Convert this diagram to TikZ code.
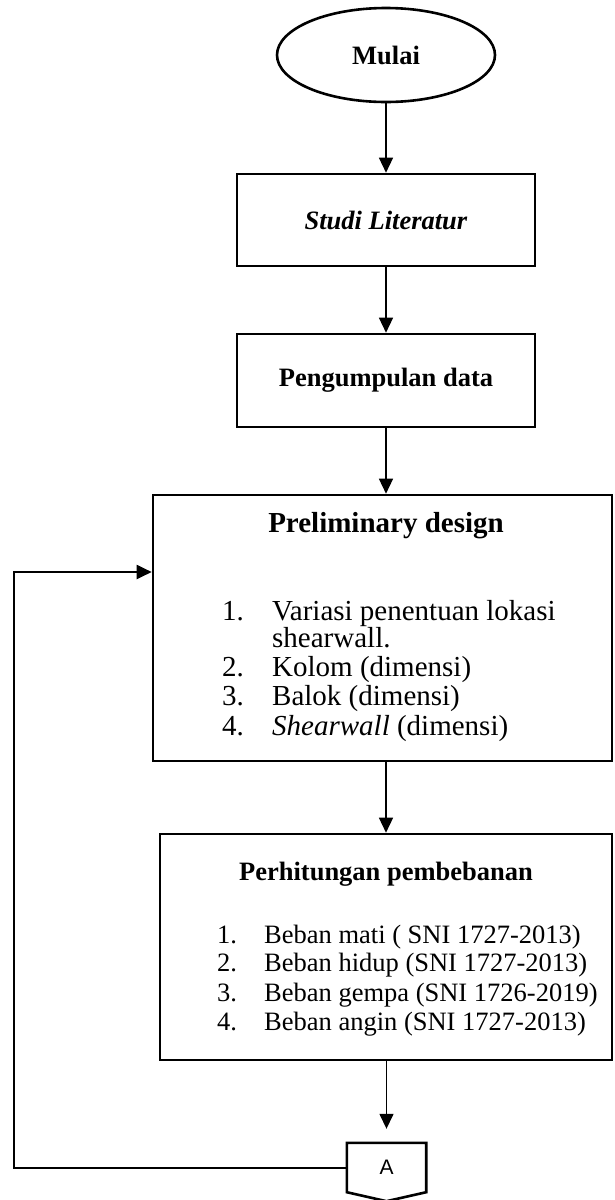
\documentclass[tikz,border=0pt]{standalone}
\usepackage{fontspec}
\setmainfont{Liberation Serif}
\newfontfamily\arialfont{Liberation Sans}
\usetikzlibrary{arrows.meta,calc,shapes.geometric}

\begin{document}
\begin{tikzpicture}[x=1pt,y=-1pt,
    box/.style={draw, line width=2.6pt, rectangle, inner sep=0pt},
    flow/.style={line width=1.4pt, -{Triangle[length=15pt,width=14pt]}},
    big/.style={font=\fontsize{26.5}{30}\selectfont},
    bigger/.style={font=\fontsize{29}{32}\selectfont}]
    \useasboundingbox (0,0) rectangle (614,1200);

    % start and first two steps
    \node[draw, ellipse, line width=2.6pt, minimum width=218pt, minimum height=94pt, big] (mulai) at (386,55) {\textbf{Mulai}};
    \node[box, minimum width=298pt, minimum height=92pt, big] (studi) at (386,220) {\textbf{\textit{Studi Literatur}}};
    \node[box, minimum width=298pt, minimum height=93pt, big] (data) at (386,380.5) {\textbf{Pengumpulan data}};

    % preliminary design
    \node[box, minimum width=459pt, minimum height=266pt] (prelim) at (382.5,628) {};
    \node[bigger, anchor=base] (prelimT) at (386,532) {\textbf{Preliminary design}};
    \foreach \y/\n/\t [count=\i] in {620/1./{Variasi penentuan lokasi}, 647//{shearwall.},
        676/2./{Kolom (dimensi)}, 705/3./{Balok (dimensi)}, 735/4./{\textit{Shearwall} (dimensi)}} {
        \node[bigger, anchor=base west, inner sep=0pt] (pn\i) at (222,\y) {\n};
        \node[bigger, anchor=base west, inner sep=0pt] (pt\i) at (272,\y) {\t};
    }

    % loads
    \node[box, minimum width=452pt, minimum height=226pt] (beban) at (386,947) {};
    \node[big, anchor=base] (bebanT) at (386,880) {\textbf{Perhitungan pembebanan}};
    \foreach \y/\n/\t [count=\i] in {943/1./{Beban mati ( SNI 1727-2013)}, 971/2./{Beban hidup (SNI 1727-2013)},
        1001/3./{Beban gempa (SNI 1726-2019)}, 1030/4./{Beban angin (SNI 1727-2013)}} {
        \node[big, anchor=base west, inner sep=0pt] (bn\i) at (217,\y) {\n};
        \node[big, anchor=base west, inner sep=0pt] (bt\i) at (264,\y) {\t};
    }

    % off-page connector
    \node[minimum width=79pt, minimum height=49pt, inner sep=0pt, font=\arialfont\fontsize{21}{24}\selectfont] (conA) at (386.5,1167.5) {A};
    \draw[line width=2.6pt] (conA.north west) -- (conA.north east) -- (conA.south east)
        -- ($(conA.south)+(0,9)$) -- (conA.south west) -- cycle;

    % arrows
    \draw[flow] (mulai) -- (studi);
    \draw[flow] (studi) -- (data);
    \draw[flow] (data.south) -- (data.south |- prelim.north);
    \draw[flow] (prelim.south -| data.south) -- (beban.north -| data.south);
    \draw[flow, shorten >=14pt] (beban.south -| conA.north) -- (conA.north);
    \coordinate (loop) at (14,572);
    \draw[flow, line width=2pt] (conA.west) -| (loop) -- (loop -| prelim.west);
\end{tikzpicture}
\end{document}
